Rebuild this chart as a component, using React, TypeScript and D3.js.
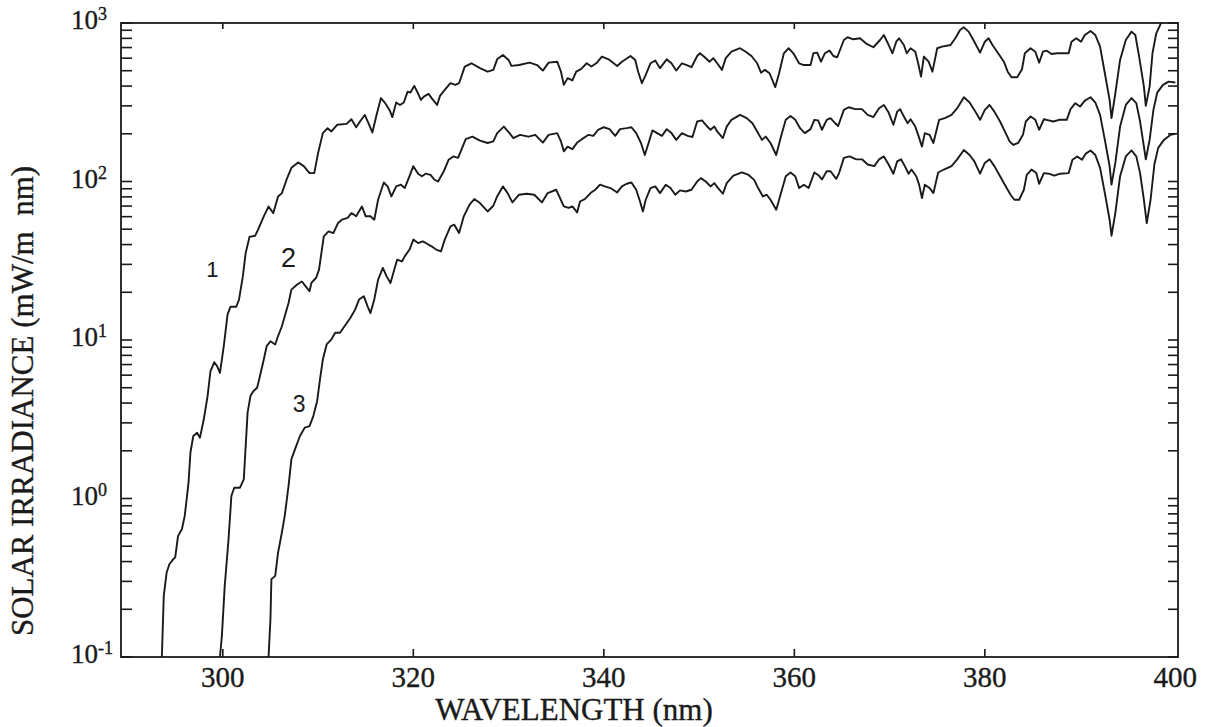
import React from "react";
import * as d3 from "d3";

// wavelength (nm), irradiance (mW/m² nm)
const curve1: [number, number][] = [
[293.6,0.1],[293.8,0.243],[294.1,0.341],[294.4,0.386],[294.8,0.414],[295.0,0.425],[295.3,0.581],[295.7,0.640],[296.0,0.776],[296.4,1.26],[296.6,1.95],[296.9,2.48],[297.3,2.60],[297.6,2.42],[298.0,3.16],[298.4,4.43],[298.7,6.35],[299.1,7.24],[299.4,6.84],[299.7,6.21],[300.1,9.14],[300.5,14.5],[300.8,16.2],[301.4,16.2],[301.7,18.0],[302.1,25.2],[302.4,35.4],[302.8,44.7],[303.4,45.5],[303.7,49.7],[304.3,60.3],[304.8,69.6],[305.3,63.2],[305.8,80.5],[306.2,84.5],[306.7,103],[307.2,122],[307.9,132],[308.5,125],[309.1,113],[309.6,113],[310.0,151],[310.5,202],[311.0,217],[311.4,207],[312.0,228],[313.0,231],[313.5,247],[314.0,220],[314.4,239],[314.9,263],[315.3,233],[315.7,204],[316.1,257],[316.6,336],[317.0,315],[317.5,283],[317.8,255],[318.2,315],[318.6,304],[319.0,315],[319.4,369],[319.7,364],[320.1,401],[320.4,369],[320.8,327],[321.1,343],[321.6,357],[322.0,331],[322.5,304],[322.8,347],[323.3,378],[323.9,417],[324.4,407],[324.8,417],[325.4,531],[326.1,557],[327.0,519],[327.8,493],[328.4,506],[328.8,590],[329.4,628],[330.0,585],[330.3,536],[331.1,543],[332.2,562],[333.0,543],[333.6,501],[334.2,562],[335.1,570],[335.5,493],[335.8,407],[336.2,449],[336.7,434],[337.1,493],[337.6,511],[338.2,557],[338.7,531],[339.2,557],[339.8,614],[340.5,590],[341.4,536],[341.9,570],[342.8,619],[343.3,585],[343.6,493],[344.0,417],[344.4,470],[344.9,557],[345.4,579],[345.9,519],[346.6,590],[347.1,557],[347.6,501],[348.2,557],[348.7,543],[349.2,526],[349.8,619],[350.1,644],[350.6,608],[351.1,570],[351.5,600],[351.9,557],[352.4,506],[352.8,600],[353.4,659],[354.3,693],[354.9,659],[355.5,619],[356.1,557],[356.5,486],[356.9,506],[357.4,482],[358.0,394],[358.4,482],[358.9,644],[359.4,693],[359.9,644],[360.5,557],[361.0,543],[361.7,543],[362.0,644],[362.4,650],[362.8,570],[363.2,644],[363.7,669],[364.1,619],[364.5,608],[365.2,781],[365.6,813],[366.2,789],[366.9,801],[367.6,738],[368.3,703],[369.0,781],[369.4,840],[369.9,727],[370.3,644],[370.7,762],[371.0,801],[371.5,727],[371.8,644],[372.2,693],[372.7,659],[373.0,557],[373.3,459],[373.6,614],[374.1,570],[374.5,493],[375.0,693],[375.5,709],[376.4,727],[376.9,801],[377.4,904],[377.8,939],[378.3,882],[378.8,781],[379.5,650],[380.0,762],[380.4,801],[380.8,727],[381.4,644],[382.0,570],[382.4,493],[382.8,455],[383.4,455],[383.9,511],[384.2,644],[384.8,693],[385.3,659],[385.7,562],[386.1,659],[386.5,669],[387.0,638],[387.6,644],[388.3,644],[388.8,644],[389.1,762],[389.6,801],[390.1,762],[390.5,840],[391.1,891],[391.6,840],[392.1,709],[392.6,482],[393.1,327],[393.3,251],[393.7,360],[394.2,585],[394.8,781],[395.4,882],[395.8,840],[396.2,614],[396.7,397],[396.9,300],[397.3,397],[397.6,644],[398.0,861],[398.4,971],[398.8,1100],[399.5,1400]
];

const curve2: [number, number][] = [
[299.7,0.1],[299.9,0.136],[300.2,0.281],[300.6,0.553],[300.9,1.04],[301.2,1.17],[301.8,1.17],[302.2,1.32],[302.4,2.14],[302.6,3.48],[302.9,4.43],[303.2,4.75],[303.6,5.00],[303.9,5.92],[304.3,7.53],[304.6,9.14],[305.0,9.82],[305.5,9.37],[305.8,10.6],[306.2,12.2],[306.5,14.1],[306.9,17.1],[307.2,20.8],[307.8,22.4],[308.3,23.4],[308.7,21.8],[309.1,20.3],[309.3,22.9],[309.8,24.7],[310.1,27.8],[310.4,37.2],[310.6,45.1],[311.1,48.4],[311.6,47.3],[312.1,54.7],[312.5,57.4],[313.1,58.9],[313.5,63.2],[314.0,60.3],[314.6,69.6],[315.0,60.3],[315.5,60.3],[315.9,57.4],[316.3,76.7],[316.9,98.6],[317.3,93.1],[317.7,80.5],[318.2,93.1],[318.7,95.5],[319.1,90.9],[319.6,108],[320.0,125],[320.5,112],[320.9,108],[321.3,112],[321.8,110],[322.2,103],[322.6,100],[323.2,116],[323.7,137],[324.2,144],[324.7,141],[325.5,185],[326.2,192],[327.0,181],[327.8,175],[328.4,179],[328.8,202],[329.5,222],[330.1,202],[330.5,188],[331.2,197],[332.1,192],[332.8,197],[333.6,176],[334.2,197],[335.1,202],[335.5,179],[335.8,155],[336.2,166],[336.7,160],[337.2,176],[337.7,185],[338.4,197],[338.9,194],[339.4,212],[340.0,220],[340.6,214],[341.2,194],[341.7,214],[342.4,217],[342.9,220],[343.4,202],[343.9,175],[344.3,147],[344.7,175],[345.1,210],[345.6,202],[346.1,194],[346.6,214],[347.1,202],[347.6,183],[348.2,202],[348.8,194],[349.3,191],[349.8,239],[350.3,243],[350.8,224],[351.2,212],[351.6,222],[351.9,207],[352.5,188],[352.9,222],[353.4,245],[354.3,263],[355.0,251],[355.6,233],[356.1,207],[356.6,183],[357.0,192],[357.5,175],[358.1,147],[358.6,192],[359.1,245],[359.6,259],[360.1,245],[360.6,217],[361.1,202],[361.7,214],[362.1,245],[362.5,243],[362.9,212],[363.4,245],[363.8,251],[364.3,233],[364.6,224],[365.2,283],[365.7,294],[366.4,286],[367.1,286],[367.7,263],[368.3,255],[368.9,290],[369.4,304],[369.9,272],[370.4,228],[370.8,276],[371.1,286],[371.5,257],[371.9,233],[372.2,247],[372.7,222],[373.0,197],[373.4,166],[373.7,202],[374.2,197],[374.6,175],[375.2,245],[375.8,251],[376.5,263],[377.1,290],[377.8,340],[378.4,315],[378.9,283],[379.5,245],[380.0,283],[380.5,304],[381.0,276],[381.6,239],[382.1,207],[382.6,179],[383.0,170],[383.5,175],[384.0,197],[384.3,239],[384.8,257],[385.3,245],[385.7,212],[386.2,247],[386.7,243],[387.2,239],[387.8,245],[388.6,245],[389.0,286],[389.5,312],[390.0,297],[390.5,324],[391.1,340],[391.6,315],[392.1,263],[392.6,183],[393.1,125],[393.3,95.5],[393.7,131],[394.2,222],[394.8,304],[395.4,336],[395.9,312],[396.3,239],[396.7,166],[396.9,138],[397.3,183],[397.7,283],[398.1,364],[398.7,407],[399.3,427],[400.0,421]
];

const curve3: [number, number][] = [
[304.8,0.1],[305.0,0.173],[305.1,0.310],[305.5,0.325],[305.8,0.456],[306.2,0.610],[306.5,0.776],[306.9,1.20],[307.2,1.77],[307.7,2.14],[308.1,2.48],[308.6,2.80],[309.1,2.86],[309.5,3.31],[309.9,4.11],[310.2,5.64],[310.5,7.53],[310.9,9.37],[311.4,10.1],[311.8,11.1],[312.3,11.1],[313.4,13.8],[313.9,15.6],[314.3,18.0],[314.8,18.9],[315.2,16.3],[315.5,14.8],[315.9,18.0],[316.3,24.0],[316.8,28.5],[317.2,25.2],[317.6,22.9],[317.9,26.5],[318.3,32.1],[318.8,31.3],[319.1,33.7],[319.6,37.2],[320.0,43.0],[320.5,40.9],[321.0,41.9],[321.4,40.6],[321.9,39.0],[322.4,37.2],[322.9,36.2],[323.3,43.0],[323.9,52.1],[324.3,53.4],[324.8,47.3],[325.3,60.3],[325.9,71.4],[326.4,77.5],[327.0,73.1],[327.8,64.7],[328.4,70.3],[328.8,80.5],[329.4,93.1],[329.9,84.5],[330.4,73.8],[331.1,82.5],[331.9,83.7],[332.7,82.5],[333.5,73.8],[334.1,84.5],[335.0,88.7],[335.8,69.6],[336.3,68.1],[336.7,69.6],[337.2,63.8],[337.5,74.8],[338.0,77.5],[338.6,84.5],[339.1,88.7],[339.6,95.5],[340.1,93.1],[340.7,90.9],[341.4,85.3],[341.9,93.1],[342.4,96.8],[342.9,98.6],[343.4,88.7],[343.8,74.8],[344.1,64.7],[344.4,76.7],[344.9,90.9],[345.4,93.1],[345.9,84.5],[346.5,95.5],[347.0,90.9],[347.5,82.5],[348.0,87.9],[348.6,86.5],[349.2,88.7],[349.8,100],[350.2,105],[350.7,100],[351.2,93.1],[351.6,97.7],[352.0,90.9],[352.5,83.7],[352.9,97.7],[353.6,109],[354.5,114],[355.2,110],[355.8,102],[356.2,90.9],[356.7,80.5],[357.1,82.5],[357.5,76.7],[358.1,66.4],[358.6,84.5],[359.1,108],[359.6,114],[360.1,108],[360.5,90.9],[361.0,95.5],[361.5,90.9],[362.1,114],[362.5,110],[362.9,103],[363.4,116],[363.8,116],[364.4,104],[364.7,113],[365.2,141],[365.8,144],[366.5,138],[367.1,138],[367.7,128],[368.4,125],[368.9,138],[369.4,144],[369.9,128],[370.4,112],[370.8,134],[371.2,138],[371.6,125],[372.0,112],[372.3,119],[372.8,108],[373.1,95.5],[373.4,78.7],[373.7,95.5],[374.2,90.9],[374.6,84.5],[375.1,114],[375.7,119],[376.5,125],[377.1,138],[377.8,158],[378.4,147],[378.9,134],[379.5,112],[380.0,131],[380.5,138],[381.0,125],[381.6,108],[382.1,95.5],[382.7,82.5],[383.1,76.7],[383.6,76.7],[384.1,88.7],[384.4,110],[384.9,119],[385.4,113],[385.7,96.8],[386.2,113],[386.7,112],[387.3,109],[387.9,112],[388.8,113],[389.2,137],[389.7,144],[390.2,137],[390.6,150],[391.1,157],[391.6,147],[392.1,122],[392.6,84.5],[393.1,57.4],[393.3,45.5],[393.7,63.2],[394.2,108],[394.8,144],[395.4,157],[395.9,144],[396.3,113],[396.7,76.7],[397.0,54.7],[397.4,76.7],[397.8,128],[398.2,163],[398.8,183],[399.5,197],[400.0,200]
];

const xTicks = [300, 320, 340, 360, 380, 400];
const yDecades = [0.1, 1, 10, 100, 1000];
const yExponents = ["-1", "0", "1", "2", "3"];
// label anchors: wavelength (nm), irradiance at text baseline
const curveLabels = [
  { text: "1", nm: 298.9, value: 24.8, size: 22, weight: 400 },
  { text: "2", nm: 306.9, value: 29.0, size: 27, weight: 500 },
  { text: "3", nm: 308.0, value: 3.49, size: 23, weight: 400 },
];
const xTitle = "WAVELENGTH (nm)";
const yTitle = "SOLAR IRRADIANCE (mW/m  nm)";

const W = 1215, H = 727;
const L = 121, R = 1178, T = 23, B = 657;

export default function App() {
  const x = d3.scaleLinear().domain([289.31, 400.28]).range([L, R]);
  const y = d3.scaleLog().domain([0.1, 1000]).range([B, T]);
  const line = d3.line<[number, number]>().x(d => x(d[0])).y(d => y(d[1]));
  const serif = "'Liberation Serif', 'Times New Roman', serif";
  const sans = "'Liberation Sans', Arial, sans-serif";
  const ink = "#1a1a1a";
  return (
    <svg width={W} height={H} style={{ position: "absolute", left: 0, top: 0, background: "#fff" }}>
      <defs>
        <clipPath id="plot"><rect x={L} y={T} width={R - L} height={B - T} /></clipPath>
      </defs>
      <rect x={0} y={0} width={W} height={H} fill="#fff" />
      <g clipPath="url(#plot)" fill="none" stroke={ink} strokeWidth={1.9} strokeLinejoin="round">
        {[curve1, curve2, curve3].map((c, i) => <path key={i} d={line(c) || ""} />)}
      </g>
      <rect x={L} y={T} width={R - L} height={B - T} fill="none" stroke={ink} strokeWidth={1.8} />
      <g stroke={ink} strokeWidth={1.6}>
        {y.ticks().map((v, i) => (
          <g key={i}>
            <line x1={L} x2={L + 11} y1={y(v)} y2={y(v)} />
            <line x1={R} x2={R - 10} y1={y(v)} y2={y(v)} />
          </g>
        ))}
        {xTicks.slice(0, -1).map((v, i) => (
          <g key={"x" + i}>
            <line x1={x(v)} x2={x(v)} y1={B} y2={B - 8} />
            <line x1={x(v)} x2={x(v)} y1={T} y2={T + 6} />
          </g>
        ))}
      </g>
      <g fontFamily={serif} fill={ink} stroke={ink} strokeWidth={0.35}>
        {yDecades.map((v, i) => (
          <text key={i} x={71} y={y(v) + 6} fontSize={27}>
            10<tspan fontSize={18} dy={-9}>{yExponents[i]}</tspan>
          </text>
        ))}
        {xTicks.map((v, i) => (
          <text key={i} x={x(v)} y={687} fontSize={29} textAnchor="middle">{v}</text>
        ))}
        <text x={574} y={720} fontSize={31} textAnchor="middle">{xTitle}</text>
        <text transform="translate(33,401) rotate(-90)" fontSize={31} textAnchor="middle" style={{ whiteSpace: "pre" }}>{yTitle}</text>
      </g>
      <g fontFamily={sans} fill={ink}>
        {curveLabels.map((c, i) => (
          <text key={i} x={x(c.nm)} y={y(c.value)} fontSize={c.size} fontWeight={c.weight} textAnchor="middle">{c.text}</text>
        ))}
      </g>
    </svg>
  );
}
